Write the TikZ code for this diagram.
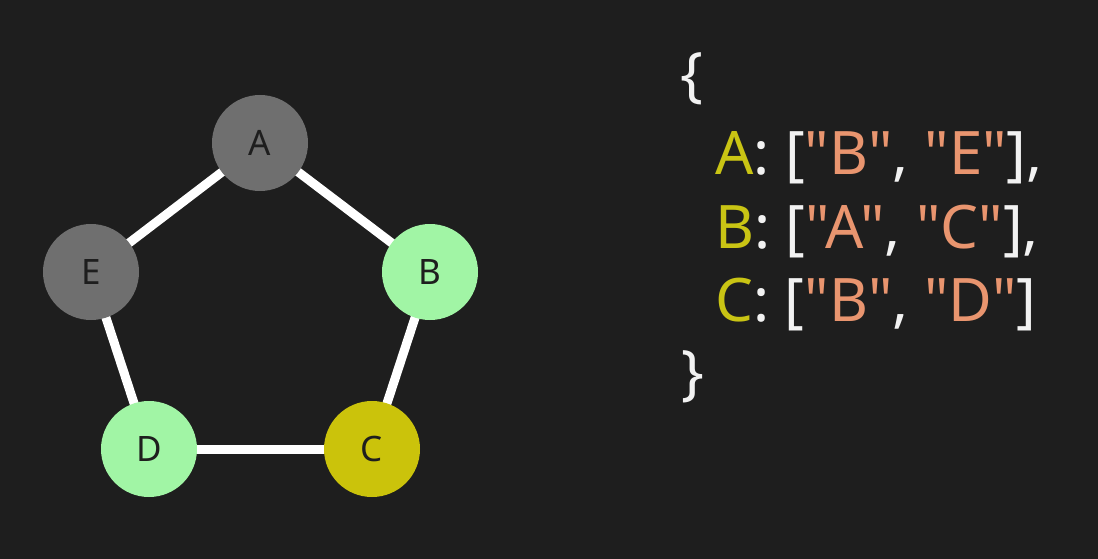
\documentclass[tikz,border=0pt]{standalone}
\usepackage{fontspec}
\setmainfont{Noto Sans}[Ligatures=TeXOff]
\usetikzlibrary{backgrounds}
\definecolor{bg}{HTML}{1E1E1E}
\definecolor{nodegrey}{HTML}{6F6F6F}
\definecolor{nodegreen}{HTML}{A1F5A5}
\definecolor{nodeyellow}{HTML}{CBC30B}
\definecolor{keyyellow}{HTML}{C9C414}
\definecolor{strsalmon}{HTML}{E9956F}
\definecolor{punct}{HTML}{F2F2F2}
\tikzset{
  vertex/.style={circle, minimum size=96pt, inner sep=0pt, text=bg,
    font=\fontsize{35}{35}\selectfont},
  edge/.style={draw=white, line width=9pt},
  codeline/.style={anchor=base west, inner sep=0pt, text=punct,
    font=\fontsize{60}{60}\selectfont},
  brace/.style={inner sep=0pt, text=punct, font=\fontsize{60}{60}\selectfont}
}
\newcommand{\kw}[1]{\textcolor{keyyellow}{#1}}
\newcommand{\str}[1]{\textcolor{strsalmon}{"#1"}}
\begin{document}
\begin{tikzpicture}[x=1pt, y=-1pt]
  \begin{scope}[on background layer]
    \fill[bg] (0,0) rectangle (1098,559);
  \end{scope}
  \useasboundingbox (0,0) rectangle (1098,559);

  % graph vertices
  \node[vertex, fill=nodegrey]   (A) at (260,143) {A};
  \node[vertex, fill=nodegreen]  (B) at (430,272) {B};
  \node[vertex, fill=nodeyellow] (C) at (372,449) {C};
  \node[vertex, fill=nodegreen]  (D) at (149,449) {D};
  \node[vertex, fill=nodegrey]   (E) at (91,272)  {E};

  % edges, behind the vertices
  \begin{scope}[on background layer]
    \draw[edge] (A.center) -- (B.center);
    \draw[edge] (B.center) -- (C.center);
    \draw[edge] (C.center) -- (D.center);
    \draw[edge] (D.center) -- (E.center);
    \draw[edge] (E.center) -- (A.center);
  \end{scope}

  % adjacency list
  \node[brace] (open) at (692,79) {\{};
  \node[codeline] (la) at (715,175) {\kw{A}: [\str{B}, \str{E}],};
  \node[codeline] (lb) at (715,248) {\kw{B}: [\str{A}, \str{C}],};
  \node[codeline] (lc) at (715,321) {\kw{C}: [\str{B}, \str{D}]};
  \node[brace] (close) at (693,377) {\}};
\end{tikzpicture}
\end{document}
